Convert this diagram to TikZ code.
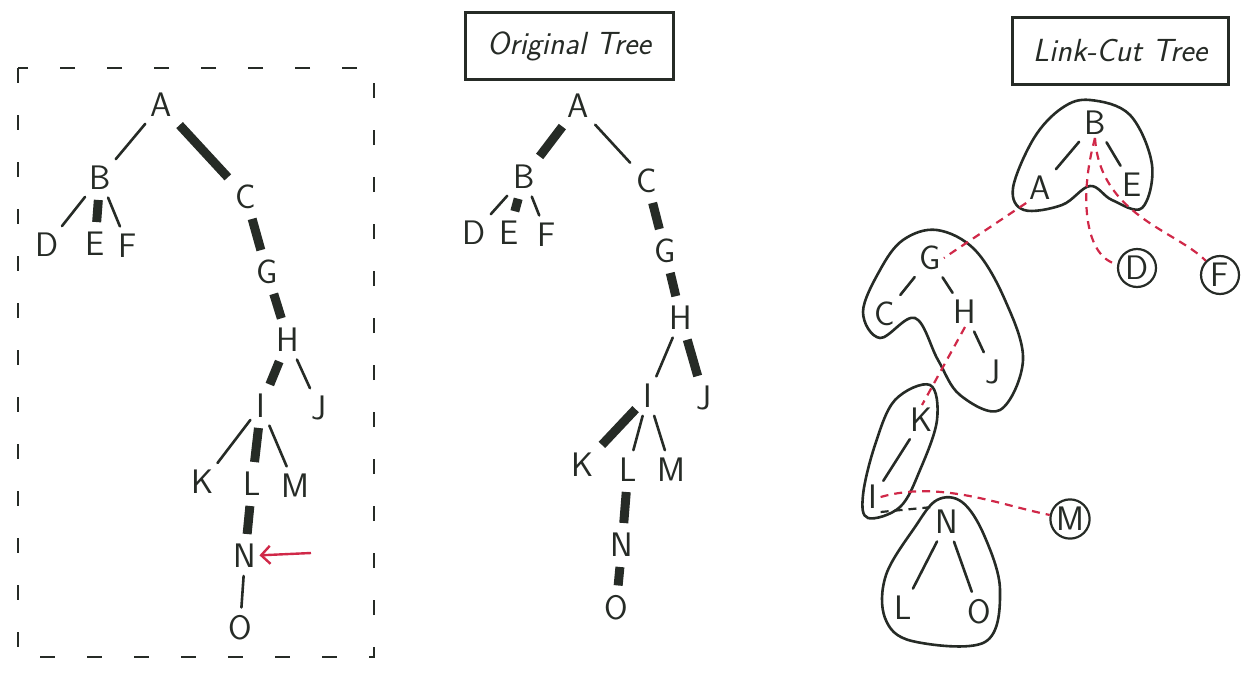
\documentclass[tikz,border=0pt]{standalone}
\usetikzlibrary{arrows.meta}
\definecolor{ink}{HTML}{262B26}
\definecolor{redink}{HTML}{D02848}
\begin{document}
\begin{tikzpicture}[x=1pt,y=-1pt] % pixel-like units, y grows downwards
\tikzstyle{letter} = [font=\sffamily\fontsize{34}{40}\selectfont, text=ink, inner sep=3pt] % node letters
\tikzstyle{ringnode} = [letter, circle, draw=ink, line width=2.2pt, inner sep=1pt, minimum size=38pt] % circled node
\tikzstyle{light} = [ink, line width=2.6pt, line cap=round, shorten >=5pt, shorten <=5pt] % thin edge
\tikzstyle{heavy} = [ink, line width=9pt, shorten >=7pt, shorten <=7pt] % preferred edge
\tikzstyle{pathptr} = [redink, line width=2.2pt, dash pattern=on 8pt off 6pt] % path-parent pointer
\tikzstyle{blob} = [ink, line width=2.6pt] % splay tree outline
\tikzstyle{titlebox} = [draw=ink, line width=3pt, font=\sffamily\itshape\fontsize{32}{38}\selectfont, text=ink, minimum height=66pt]
\useasboundingbox (0,0) rectangle (1241,677);

% ---------- left: the tree with the access path ----------
\draw[ink, line width=2.6pt, dash pattern=on 15pt off 32pt] (18,68) rectangle (374,657);
\node[letter] (lA) at (161,105) {A};
\node[letter] (lB) at (100,178) {B};
\node[letter] (lD) at (47,245) {D};
\node[letter] (lE) at (95,244) {E};
\node[letter] (lF) at (128,246) {F};
\node[letter] (lC) at (246,197) {C};
\node[letter] (lG) at (267,272) {G};
\node[letter] (lH) at (288,340) {H};
\node[letter] (lI) at (261,406) {I};
\node[letter] (lJ) at (319,408) {J};
\node[letter] (lK) at (203,482) {K};
\node[letter] (lL) at (252,484) {L};
\node[letter] (lM) at (295,486) {M};
\node[letter] (lN) at (245,556) {N};
\node[letter] (lO) at (240,628) {O};
\coordinate (arrowtail) at (311,553);
\draw[light] (lA) -- (lB);
\draw[heavy] (lA) -- (lC);
\draw[light] (lB) -- (lD);
\draw[heavy] (lB) -- (lE);
\draw[light] (lB) -- (lF);
\draw[heavy] (lC) -- (lG);
\draw[heavy] (lG) -- (lH);
\draw[heavy] (lH) -- (lI);
\draw[light] (lH) -- (lJ);
\draw[light] (lI) -- (lK);
\draw[heavy] (lI) -- (lL);
\draw[light] (lI) -- (lM);
\draw[heavy] (lL) -- (lN);
\draw[light] (lN) -- (lO);
\draw[redink, line width=2.4pt, -{Straight Barb[length=9pt,width=18pt]}] (arrowtail) -- (lN);

% ---------- middle: original tree ----------
\node[titlebox, minimum width=208pt] (otitle) at (569,46) {Original Tree};
\node[letter] (mA) at (578,106) {A};
\node[letter] (mB) at (524,177) {B};
\node[letter] (mD) at (474,233) {D};
\node[letter] (mE) at (509,233) {E};
\node[letter] (mF) at (547,235) {F};
\node[letter] (mC) at (647,181) {C};
\node[letter] (mG) at (665,251) {G};
\node[letter] (mH) at (681,318) {H};
\node[letter] (mI) at (648,396) {I};
\node[letter] (mJ) at (704,398) {J};
\node[letter] (mK) at (583,465) {K};
\node[letter] (mL) at (628,470) {L};
\node[letter] (mM) at (671,470) {M};
\node[letter] (mN) at (622,545) {N};
\node[letter] (mO) at (616,608) {O};
\draw[heavy] (mA) -- (mB);
\draw[light] (mA) -- (mC);
\draw[light] (mB) -- (mD);
\draw[heavy] (mB) -- (mE);
\draw[light] (mB) -- (mF);
\draw[heavy] (mC) -- (mG);
\draw[heavy] (mG) -- (mH);
\draw[light] (mH) -- (mI);
\draw[heavy] (mH) -- (mJ);
\draw[heavy] (mI) -- (mK);
\draw[light] (mI) -- (mL);
\draw[light] (mI) -- (mM);
\draw[heavy] (mL) -- (mN);
\draw[heavy] (mN) -- (mO);

% ---------- right: link-cut tree ----------
\node[titlebox, minimum width=216pt] (ltitle) at (1120,51) {Link-Cut Tree};
% splay trees
\draw[blob] plot[smooth cycle, tension=0.6] coordinates {(1090,100) (1130,115) (1152,165) (1142,208) (1112,200) (1090,186) (1062,205) (1024,210) (1013,188) (1034,138) (1062,108)};
\draw[blob] plot[smooth cycle, tension=0.6] coordinates {(937,230) (975,250) (1005,300) (1023,360) (1000,410) (960,395) (938,360) (915,318) (880,338) (863,312) (880,270) (903,240)};
\draw[blob] plot[smooth cycle, tension=0.6] coordinates {(930,385) (937,420) (920,470) (900,507) (868,518) (863,495) (875,445) (895,400)};
\draw[blob] plot[smooth cycle, tension=0.6] coordinates {(937,500) (962,502) (984,535) (1000,590) (985,642) (912,641) (885,618) (886,575) (915,527)};
\node[letter] (rB) at (1095,123) {B};
\node[letter] (rA) at (1040,188) {A};
\node[letter] (rE) at (1132,185) {E};
\node[ringnode] (rD) at (1137,268) {D};
\node[ringnode] (rF) at (1220,275) {F};
\node[letter] (rG) at (930,258) {G};
\node[letter] (rC) at (885,314) {C};
\node[letter] (rH) at (965,312) {H};
\node[letter] (rJ) at (993,372) {J};
\node[letter] (rK) at (922,420) {K};
\node[letter] (rI) at (873,497) {I};
\node[letter] (rN) at (947,522) {N};
\node[letter] (rL) at (903,608) {L};
\node[letter] (rO) at (979,612) {O};
\node[ringnode] (rM) at (1070,519) {M};
\draw[light] (rB) -- (rA);
\draw[light] (rB) -- (rE);
\draw[light] (rG) -- (rC);
\draw[light] (rG) -- (rH);
\draw[light] (rH) -- (rJ);
\draw[light] (rK) -- (rI);
\draw[light] (rN) -- (rL);
\draw[light] (rN) -- (rO);
% path-parent pointers
\draw[pathptr] (rB.south) .. controls (1078,200) and (1086,258) .. (rD);
\draw[pathptr] (rB.south) .. controls (1100,215) and (1175,230) .. (rF);
\draw[pathptr] (rA.south west) -- (rG.east);
\draw[pathptr] (rH.south) -- (rK.north);
\draw[pathptr] (rI.east) .. controls (940,480) and (1000,505) .. (rM);
\draw[ink, line width=2.2pt, dash pattern=on 8pt off 6pt] (rI.south east) -- (rN.north west);
\end{tikzpicture}
\end{document}
